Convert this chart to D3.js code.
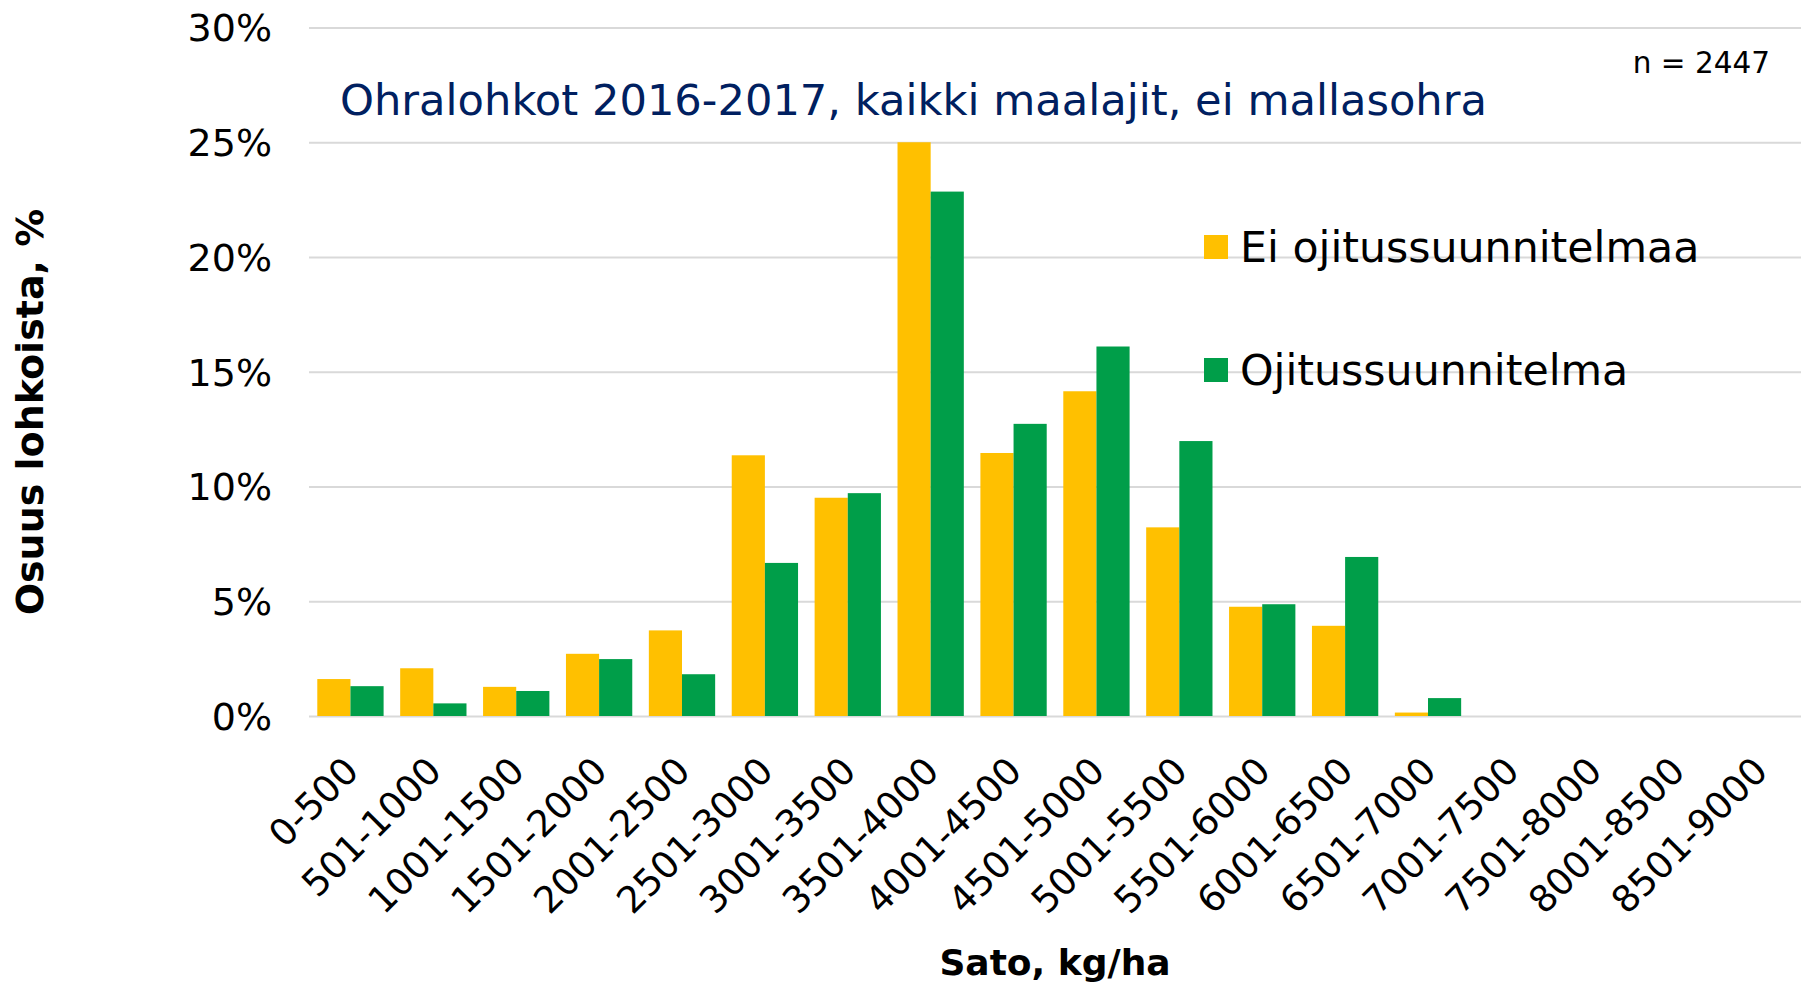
<!DOCTYPE html>
<html>
<head>
<meta charset="utf-8">
<script src="https://cdn.jsdelivr.net/npm/d3@7"></script>
<style>
  body { margin: 0; background: #fff; }
  text { font-family: "DejaVu Sans", Verdana, sans-serif; }
</style>
</head>
<body>
<div id="chart"></div>
<script>
// Data
const categories = ['0-500', '501-1000', '1001-1500', '1501-2000', '2001-2500', '2501-3000',
  '3001-3500', '3501-4000', '4001-4500', '4501-5000', '5001-5500', '5501-6000',
  '6001-6500', '6501-7000', '7001-7500', '7501-8000', '8001-8500', '8501-9000']
const eiOjitus = [1.61, 2.08, 1.27, 2.71, 3.73, 11.36, 9.51, 25.0, 11.46, 14.15,
  8.22, 4.76, 3.93, 0.15, 0, 0, 0, 0]
const ojitus = [1.30, 0.55, 1.09, 2.48, 1.82, 6.67, 9.71, 22.85, 12.73, 16.1,
  11.98, 4.87, 6.93, 0.78, 0, 0, 0, 0]
const seriesNames = ['Ei ojitussuunnitelmaa', 'Ojitussuunnitelma']
const yTicks = [0, 5, 10, 15, 20, 25, 30]

const colors = ['#FFC000', '#009E49']

// Our canvas
const width = 1806,
  height = 982,
  plotLeft = 309,
  plotRight = 1801,
  plotTop = 27.5,
  plotBottom = 716

let svg = d3.select('#chart')
  .append('svg')
  .attr('width', width)
  .attr('height', height)

const xScale = d3.scaleBand()
  .domain(categories)
  .range([plotLeft, plotRight])
  .paddingInner(0.2)
  .paddingOuter(0.1)

const xSub = d3.scaleBand()
  .domain([0, 1])
  .range([0, xScale.bandwidth()])

const yScale = d3.scaleLinear()
  .domain([0, 30])
  .range([plotBottom, plotTop])

// gridlines + y labels
const yAxis = d3.axisLeft(yScale)
  .tickValues(yTicks)
  .tickSize(-(plotRight - plotLeft))
  .tickPadding(37)
  .tickFormat(d => d + '%')

const gy = svg.append('g')
  .attr('transform', `translate(${plotLeft},0)`)
  .call(yAxis)
gy.select('.domain').remove()
gy.selectAll('.tick line')
  .attr('stroke', '#D9D9D9')
  .attr('stroke-width', 2)
gy.selectAll('.tick text')
  .attr('font-size', 38)
  .attr('fill', '#000')
  .attr('dy', '0.35em')

// bars
const rows = categories.map((c, i) => ({ cat: c, vals: [eiOjitus[i], ojitus[i]] }))

svg.append('g')
  .selectAll('g')
  .data(rows)
  .enter()
  .append('g')
  .attr('transform', d => `translate(${xScale(d.cat)},0)`)
  .selectAll('rect')
  .data(d => d.vals)
  .enter()
  .append('rect')
  .attr('x', (d, i) => xSub(i))
  .attr('y', d => yScale(d))
  .attr('width', xSub.bandwidth())
  .attr('height', d => plotBottom - yScale(d))
  .attr('fill', (d, i) => colors[i])

// x axis labels
const xAxis = d3.axisBottom(xScale)
  .tickSize(0)
  .tickPadding(0)

const gx = svg.append('g')
  .attr('transform', `translate(0,${plotBottom})`)
  .call(xAxis)
gx.select('.domain').remove()
gx.selectAll('.tick text')
  .attr('font-size', 37)
  .attr('fill', '#000')
  .attr('text-anchor', 'end')
  .attr('dy', '0.35em')
  .attr('transform', 'translate(1,48) rotate(-45)')

// titles
svg.append('text')
  .attr('x', 340)
  .attr('y', 115)
  .attr('font-size', 43.2)
  .attr('fill', '#002060')
  .text('Ohralohkot 2016-2017, kaikki maalajit, ei mallasohra')

svg.append('text')
  .attr('x', 1770)
  .attr('y', 73)
  .attr('text-anchor', 'end')
  .attr('font-size', 29.5)
  .text('n = 2447')

svg.append('text')
  .attr('transform', 'translate(43,412) rotate(-90)')
  .attr('text-anchor', 'middle')
  .attr('font-size', 38)
  .attr('font-weight', 'bold')
  .text('Osuus lohkoista, %')

svg.append('text')
  .attr('x', (plotLeft + plotRight) / 2)
  .attr('y', 975)
  .attr('text-anchor', 'middle')
  .attr('font-size', 36)
  .attr('font-weight', 'bold')
  .text('Sato, kg/ha')

// legend
const legend = svg.append('g')
  .selectAll('g')
  .data(seriesNames)
  .enter()
  .append('g')
  .attr('transform', (d, i) => `translate(1204,${235 + i * 123})`)

legend.append('rect')
  .attr('width', 24)
  .attr('height', 24)
  .attr('fill', (d, i) => colors[i])

legend.append('text')
  .attr('x', 36)
  .attr('y', 27)
  .attr('font-size', 42.7)
  .text(d => d)
</script>
</body>
</html>
